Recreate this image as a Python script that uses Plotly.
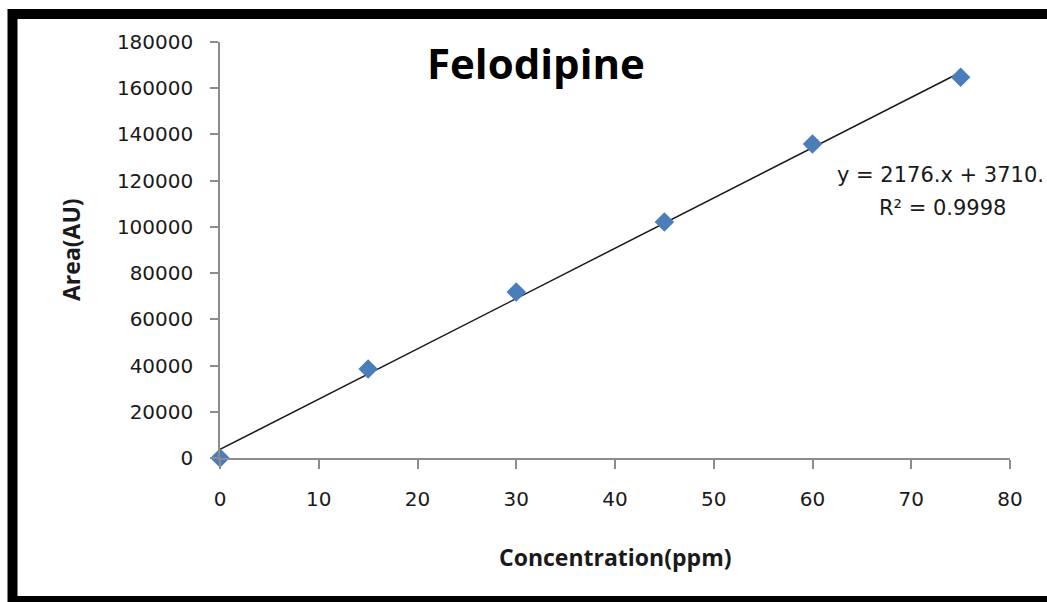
import plotly.graph_objects as go

# Calibration data: concentration (ppm) vs peak area (AU)
concentration = [0, 15, 30, 45, 60, 75]
area = [0, 38500, 71800, 102100, 135900, 164800]

# Linear trendline as reported on the chart
slope = 2176.0
intercept = 3710.0
r_squared = 0.9998
trend_x = [0, 75]
trend_y = [slope * x + intercept for x in trend_x]

x_ticks = list(range(0, 81, 10))
y_ticks = list(range(0, 180001, 20000))
y_tick_text = [str(v) for v in y_ticks]

W, H = 1047, 602
L, R, T, B = 220, 37, 42, 144
plot_w = W - L - R
plot_h = H - T - B


def px_x(p):
    return (p - L) / plot_w


def px_y(p):
    return (H - B - p) / plot_h


fig = go.Figure()

fig.add_trace(go.Scatter(
    x=trend_x, y=trend_y, mode="lines",
    line=dict(color="#1a1a1a", width=1.5),
    showlegend=False, hoverinfo="skip",
))
fig.add_trace(go.Scatter(
    x=concentration, y=area, mode="markers",
    marker=dict(symbol="diamond", size=15, color="#4a7ebb"),
    showlegend=False, cliponaxis=False,
))

axis_common = dict(
    showgrid=False, zeroline=False, showline=True,
    linecolor="#8c8c8c", linewidth=1.5,
    ticks="outside", tickcolor="#8c8c8c", tickwidth=1.5,
    tickfont=dict(family="DejaVu Sans", size=20, color="#1a1a1a"),
)

fig.update_xaxes(
    range=[0, 80], tickvals=x_ticks, ticklen=9,
    ticklabelstandoff=13, **axis_common,
)
fig.update_yaxes(
    range=[0, 180000], tickvals=y_ticks, ticktext=y_tick_text, ticklen=8,
    ticklabelstandoff=13, **axis_common,
)

annotations = [
    dict(text="<b>Felodipine</b>", x=px_x(536), y=px_y(62),
         font=dict(family="Open Sans", size=42, color="#000000")),
    dict(text="<b>Concentration(ppm)</b>", x=px_x(615), y=px_y(557),
         font=dict(family="Open Sans", size=23, color="#1a1a1a")),
    dict(text="<b>Area(AU)</b>", x=px_x(71), y=px_y(250), textangle=-90,
         font=dict(family="Open Sans", size=23, color="#1a1a1a")),
    dict(text=f"y = {slope:.0f}.x + {intercept:.0f}.", x=px_x(835), y=px_y(175),
         xanchor="left", font=dict(family="DejaVu Sans", size=21, color="#1a1a1a")),
    dict(text=f"R² = {r_squared}", x=px_x(877), y=px_y(208),
         xanchor="left", font=dict(family="DejaVu Sans", size=21, color="#1a1a1a")),
]
for a in annotations:
    a.setdefault("xanchor", "center")
    a.update(xref="paper", yref="paper", yanchor="middle", showarrow=False)

# Heavy black frame around the chart area
fig.add_shape(
    type="rect", xref="paper", yref="paper",
    x0=px_x(12.5), x1=px_x(1060), y0=px_y(601), y1=px_y(14),
    line=dict(color="#000000", width=10), fillcolor="rgba(0,0,0,0)",
    layer="above",
)

fig.update_layout(
    width=W, height=H,
    margin=dict(l=L, r=R, t=T, b=B),
    paper_bgcolor="#ffffff", plot_bgcolor="#ffffff",
    annotations=annotations,
)

fig.write_html("out.html")
